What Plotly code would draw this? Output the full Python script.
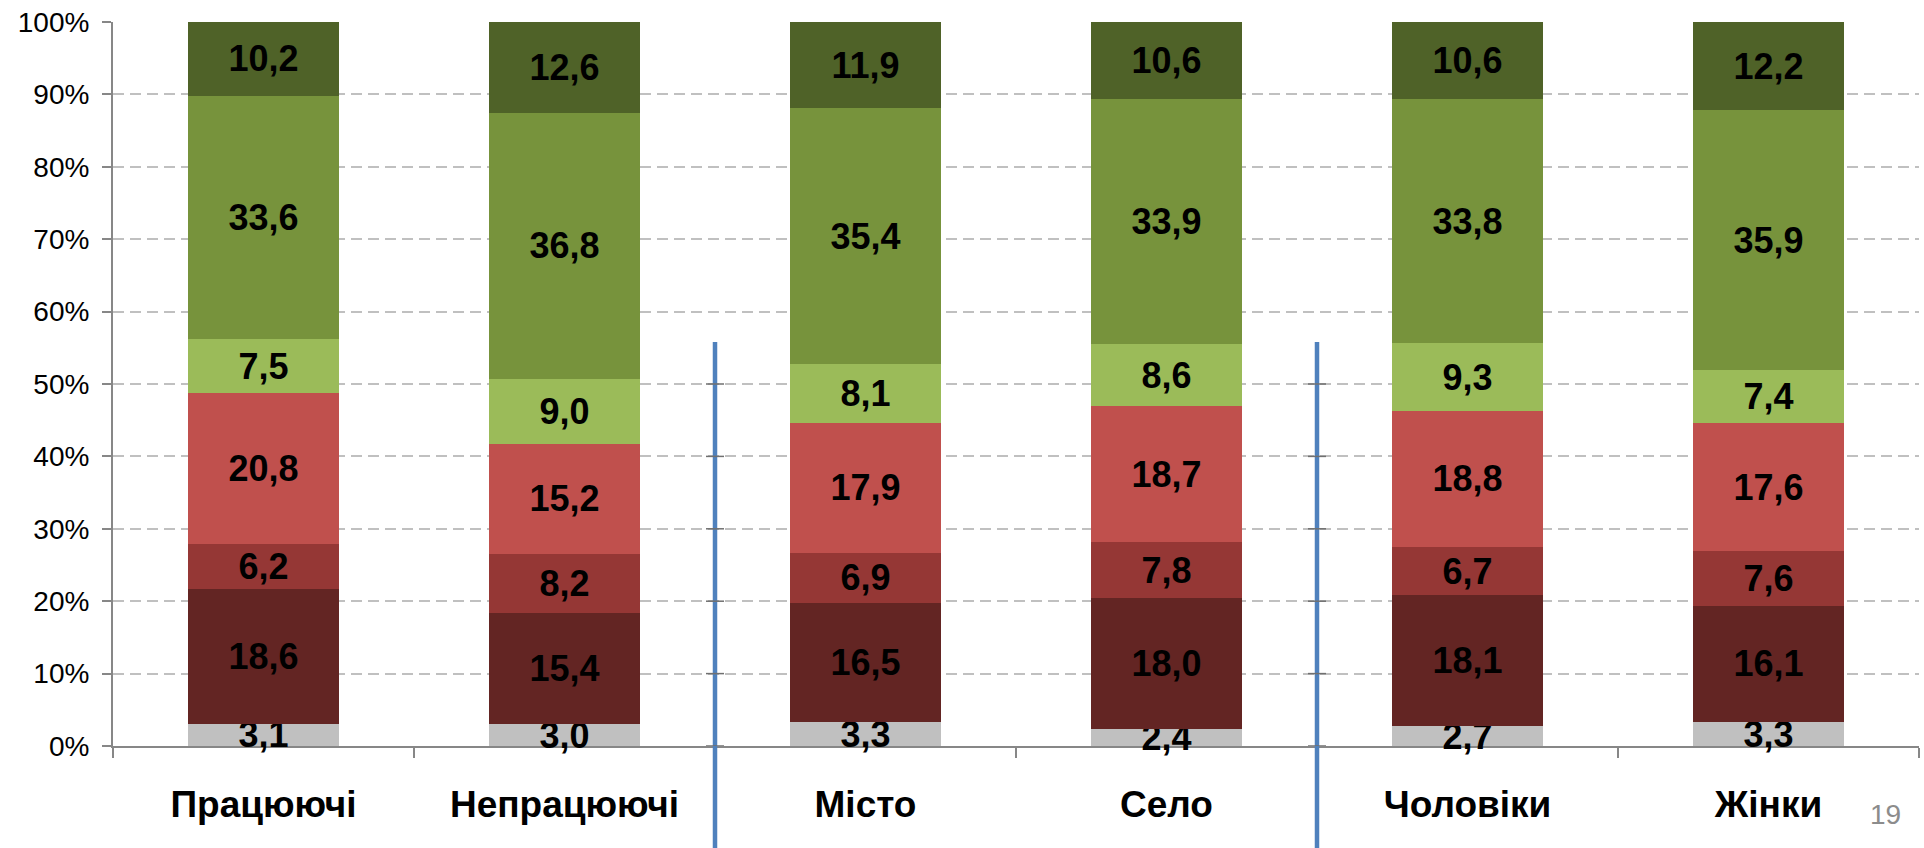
import plotly.graph_objects as go

categories = ["Працюючі", "Непрацюючі", "Місто", "Село", "Чоловіки", "Жінки"]

s1 = [3.1, 3.0, 3.3, 2.4, 2.7, 3.3]
s2 = [18.6, 15.4, 16.5, 18.0, 18.1, 16.1]
s3 = [6.2, 8.2, 6.9, 7.8, 6.7, 7.6]
s4 = [20.8, 15.2, 17.9, 18.7, 18.8, 17.6]
s5 = [7.5, 9.0, 8.1, 8.6, 9.3, 7.4]
s6 = [33.6, 36.8, 35.4, 33.9, 33.8, 35.9]
s7 = [10.2, 12.6, 11.9, 10.6, 10.6, 12.2]

series = [s1, s2, s3, s4, s5, s6, s7]
colors = ["#c0c0c0", "#632523", "#953735", "#c0504d", "#9bbb59", "#77933c", "#4f6228"]

y_ticks = [0, 10, 20, 30, 40, 50, 60, 70, 80, 90, 100]
y_tick_text = [f"{v}%" for v in y_ticks]
divider_positions = [1.5, 3.5]
divider_top = 55.8
page_number = "19"

FONT = "Liberation Sans, Arial, sans-serif"

fig = go.Figure()
for vals, col in zip(series, colors):
    fig.add_trace(go.Bar(
        x=categories, y=vals,
        marker=dict(color=col, line=dict(width=0)),
        text=[f"{v:.1f}".replace(".", ",") for v in vals],
        textposition="inside",
        insidetextanchor="middle",
        constraintext="none",
        cliponaxis=False,
        textfont=dict(family=FONT, size=36, color="black", weight="bold"),
        hoverinfo="skip",
        showlegend=False,
    ))

fig.update_layout(
    barmode="stack",
    barnorm="percent",
    bargap=0.5,
    width=1924, height=848,
    margin=dict(l=113, r=5, t=22, b=102),
    paper_bgcolor="white", plot_bgcolor="white",
    font=dict(family=FONT, color="black"),
    xaxis=dict(
        type="category",
        showline=True, linecolor="#878787", linewidth=2,
        ticks="outside", tickson="boundaries", ticklen=10, tickcolor="#878787", tickwidth=1.5,
        tickfont=dict(family=FONT, size=37, color="black", weight="bold"),
        ticklabelstandoff=25,
        showgrid=False,
        layer="below traces",
    ),
    yaxis=dict(
        range=[0, 100], tickmode="array", tickvals=y_ticks, ticktext=y_tick_text,
        showline=True, linecolor="#878787", linewidth=2,
        ticks="outside", ticklen=9, tickcolor="#878787", tickwidth=1.5,
        tickfont=dict(family=FONT, size=28, color="black"),
        ticklabelstandoff=7,
        showgrid=True, gridcolor="#c0c0c0", gridwidth=1.5, griddash="11px,6px",
        zeroline=False,
    ),
)

for pos in divider_positions:
    fig.add_shape(type="line", xref="x", yref="paper",
                  x0=pos, x1=pos, y0=-0.15, y1=divider_top / 100,
                  line=dict(color="#4f81bd", width=4.5), layer="above")
    for t in y_ticks:
        if t <= divider_top:
            fig.add_shape(type="line", xref="x", yref="y",
                          xsizemode="pixel", xanchor=pos, x0=-9, x1=9,
                          y0=t, y1=t,
                          line=dict(color="#707070", width=1.5), layer="above")

fig.add_annotation(text=page_number, xref="paper", yref="paper",
                   x=(1885 - 113) / (1924 - 118), y=-(814 - 746) / 724,
                   showarrow=False, xanchor="center", yanchor="middle",
                   font=dict(family=FONT, size=28, color="#8c8c8c"))

fig.write_html("out.html", config={"displayModeBar": False},
               post_script="document.body.style.margin='0';document.body.style.padding='0';")
